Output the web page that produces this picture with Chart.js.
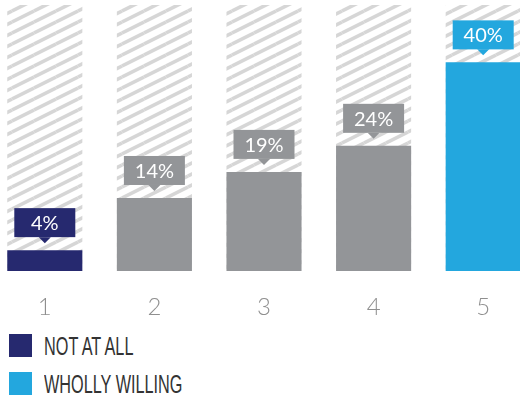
<!DOCTYPE html>
<html>
<head>
<meta charset="utf-8">
<script src="https://cdn.jsdelivr.net/npm/chart.js@4"></script>
<style>
	html, body { margin: 0; padding: 0; background: #fff; overflow: hidden; }
	body { width: 520px; height: 400px; position: relative; }
	#wrap { position: absolute; left: -10px; top: 0; width: 548px; height: 320px; }
	.legend-row { position: absolute; left: 9px; height: 23px; }
	.legend-row .swatch { position: absolute; left: 0; top: 0; width: 23px; height: 23px; }
	.legend-row .label {
		position: absolute; left: 35px; top: -3px; white-space: nowrap;
		font-family: "Liberation Sans Narrow", "Liberation Sans", sans-serif;
		font-size: 26px; line-height: 30px; color: #333;
		transform: scaleX(0.625); transform-origin: left center;
	}
</style>
</head>
<body>
<div id="wrap"><canvas id="chart" width="548" height="320"></canvas></div>
<div id="legend"></div>
<script>
const categories = ['1', '2', '3', '4', '5'];
const values = [4, 14, 19, 24, 40];
const trackValues = [51, 51, 51, 51, 51];
const barColors = ['#26296f', '#939598', '#939598', '#939598', '#23a7de'];
const legendLabels = ['NOT AT ALL', 'WHOLLY WILLING'];
const legendColors = ['#26296f', '#23a7de'];

//build a small tile of light grey diagonal stripes for the empty part of each column
function makeStripes() {
	const tile = document.createElement('canvas');
	tile.width = 22;
	tile.height = 11;
	const c = tile.getContext('2d');
	c.strokeStyle = '#d6d6d6';
	c.lineWidth = 3.6;
	for (let dx = -22; dx <= 22; dx += 22) {
		for (let dy = -11; dy <= 11; dy += 11) {
			c.beginPath();
			c.moveTo(dx, 11 + dy);
			c.lineTo(dx + 22, dy);
			c.stroke();
		}
	}
	return c.createPattern(tile, 'repeat');
}

//callout box with a little pointer above every value bar
const calloutPlugin = {
	id: 'callouts',
	afterDatasetsDraw(chart) {
		const ctx = chart.ctx;
		const meta = chart.getDatasetMeta(0);
		meta.data.forEach((bar, i) => {
			const x = bar.x;
			const bottom = bar.y - 13;
			const w = 61, h = 29;
			ctx.save();
			ctx.fillStyle = barColors[i];
			ctx.fillRect(x - w / 2, bottom - h, w, h);
			ctx.beginPath();
			ctx.moveTo(x - 6, bottom);
			ctx.lineTo(x + 6, bottom);
			ctx.lineTo(x, bottom + 6);
			ctx.closePath();
			ctx.fill();
			ctx.fillStyle = '#fff';
			ctx.font = '400 20px Lato, "Open Sans", sans-serif';
			ctx.textAlign = 'center';
			ctx.textBaseline = 'middle';
			ctx.fillText(values[i] + '%', x, bottom - h / 2 + 1);
			ctx.restore();
		});
	}
};

const ctx = document.getElementById('chart').getContext('2d');

new Chart(ctx, {
	type: 'bar',
	data: {
		labels: categories,
		datasets: [
			{
				data: values,
				backgroundColor: barColors,
				grouped: false,
				order: 0
			},
			{
				data: trackValues,
				backgroundColor: makeStripes(),
				grouped: false,
				order: 1
			}
		]
	},
	options: {
		responsive: false,
		animation: false,
		events: [],
		layout: { padding: { top: 5, left: 0, right: 0, bottom: 0 } },
		datasets: {
			bar: { categoryPercentage: 1, barPercentage: 0.685 }
		},
		plugins: {
			legend: { display: false },
			tooltip: { enabled: false }
		},
		scales: {
			x: {
				grid: { display: false },
				border: { display: false },
				ticks: {
					color: '#8f8f8f',
					padding: 14,
					font: { family: 'Lato, "Open Sans", sans-serif', size: 24, weight: 300 }
				},
				afterFit(axis) { axis.height = 49; }
			},
			y: {
				display: false,
				min: 0,
				max: 51
			}
		}
	},
	plugins: [calloutPlugin]
});

//legend underneath the columns
const legend = document.getElementById('legend');
legendLabels.forEach((text, i) => {
	const row = document.createElement('div');
	row.className = 'legend-row';
	row.style.top = (334 + i * 38) + 'px';
	row.innerHTML = '<div class="swatch" style="background:' + legendColors[i] + '"></div><div class="label"></div>';
	row.querySelector('.label').textContent = text;
	legend.appendChild(row);
});
</script>
</body>
</html>
